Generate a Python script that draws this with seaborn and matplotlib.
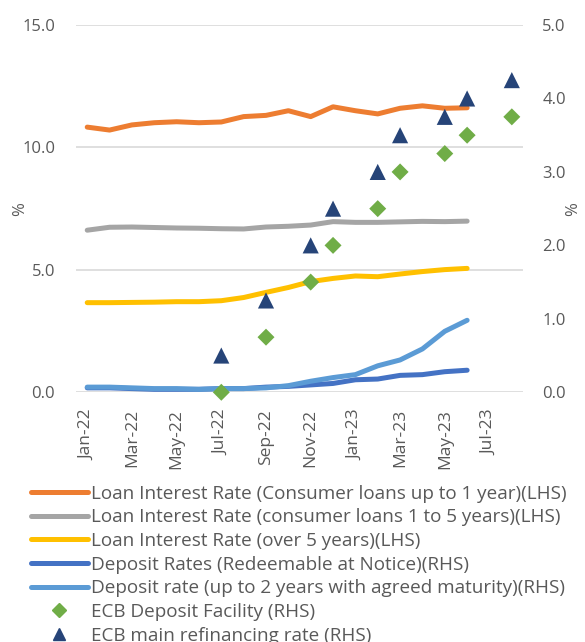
import pandas as pd
import matplotlib.pyplot as plt
import matplotlib.lines as mlines
import seaborn as sns

# Monthly data, Jan-22 .. Aug-23
months = ["Jan-22", "Feb-22", "Mar-22", "Apr-22", "May-22", "Jun-22", "Jul-22", "Aug-22",
          "Sep-22", "Oct-22", "Nov-22", "Dec-22", "Jan-23", "Feb-23", "Mar-23", "Apr-23",
          "May-23", "Jun-23", "Jul-23", "Aug-23"]
tick_labels = ["Jan-22", "Mar-22", "May-22", "Jul-22", "Sep-22", "Nov-22",
               "Jan-23", "Mar-23", "May-23", "Jul-23"]

# LHS series (Jan-22 .. Jun-23)
loan_upto1 = [10.83, 10.71, 10.92, 11.01, 11.05, 11.01, 11.04, 11.26, 11.31, 11.50,
              11.26, 11.66, 11.50, 11.37, 11.60, 11.70, 11.60, 11.62]
loan_1to5 = [6.62, 6.74, 6.75, 6.73, 6.71, 6.70, 6.68, 6.67, 6.75, 6.78,
             6.83, 6.97, 6.94, 6.94, 6.96, 6.98, 6.97, 6.99]
loan_over5 = [3.66, 3.66, 3.67, 3.68, 3.70, 3.70, 3.74, 3.87, 4.08, 4.28,
              4.52, 4.65, 4.75, 4.72, 4.83, 4.93, 5.01, 5.06]

# RHS series
dep_notice = [0.06, 0.06, 0.05, 0.04, 0.04, 0.04, 0.05, 0.05, 0.07, 0.08,
              0.10, 0.12, 0.17, 0.18, 0.23, 0.24, 0.28, 0.30]
dep_2y = [0.07, 0.07, 0.06, 0.05, 0.05, 0.04, 0.05, 0.05, 0.06, 0.09,
          0.15, 0.20, 0.24, 0.36, 0.44, 0.59, 0.83, 0.98]

# ECB rates (month, value)
dfr_months = ["Jul-22", "Sep-22", "Nov-22", "Dec-22", "Feb-23", "Mar-23", "May-23", "Jun-23", "Aug-23"]
dfr_rates = [0.0, 0.75, 1.5, 2.0, 2.5, 3.0, 3.25, 3.5, 3.75]
mro_months = ["Jul-22", "Sep-22", "Nov-22", "Dec-22", "Feb-23", "Mar-23", "May-23", "Jun-23", "Aug-23"]
mro_rates = [0.5, 1.25, 2.0, 2.5, 3.0, 3.5, 3.75, 4.0, 4.25]

labels = ["Loan Interest Rate (Consumer loans up to 1 year)(LHS)",
          "Loan Interest Rate (consumer loans 1 to 5 years)(LHS)",
          "Loan Interest Rate (over 5 years)(LHS)",
          "Deposit Rates (Redeemable at Notice)(RHS)",
          "Deposit rate (up to 2 years with agreed maturity)(RHS)",
          "ECB Deposit Facility (RHS)",
          "ECB main refinancing rate (RHS)"]
colors = ["#ED7D31", "#A5A5A5", "#FFC000", "#4472C4", "#5B9BD5", "#70AD47", "#264478"]

pos = {m: i for i, m in enumerate(months)}
x_line = list(range(len(loan_upto1)))

sns.set_style("white")
plt.rcParams['font.family'] = ['Open Sans', 'DejaVu Sans']
txt = "#595959"

fig = plt.figure(figsize=(5.85, 6.42), dpi=100)
ax = fig.add_axes([0.130, 0.389, 0.764, 0.572])
ax2 = ax.twinx()

lw = 3.6
for vals, lab, c in zip([loan_upto1, loan_1to5, loan_over5], labels[:3], colors[:3]):
    sns.lineplot(x=x_line, y=vals, ax=ax, color=c, linewidth=lw, label=lab,
                 solid_capstyle="round", legend=False)
for vals, lab, c in zip([dep_notice, dep_2y], labels[3:5], colors[3:5]):
    sns.lineplot(x=x_line, y=vals, ax=ax2, color=c, linewidth=lw, label=lab,
                 solid_capstyle="round", legend=False)

sns.scatterplot(x=[pos[m] for m in dfr_months], y=dfr_rates, ax=ax2, marker="D",
                s=75, color=colors[5], edgecolor="none", zorder=5, legend=False, clip_on=False)
sns.scatterplot(x=[pos[m] for m in mro_months], y=mro_rates, ax=ax2, marker="^",
                s=135, color=colors[6], edgecolor="none", zorder=5, legend=False, clip_on=False)

ax.set_xlim(-0.5, len(months) - 0.5)
ax.set_ylim(0, 15)
ax2.set_ylim(0, 5)
ax.set_yticks([0, 5, 10, 15])
ax.set_yticklabels(["0.0", "5.0", "10.0", "15.0"])
ax2.set_yticks([0, 1, 2, 3, 4, 5])
ax2.set_yticklabels(["0.0", "1.0", "2.0", "3.0", "4.0", "5.0"])
ax.set_xticks([pos[m] for m in tick_labels])
ax.set_xticklabels(tick_labels, rotation=90)

ax.grid(axis="y", color="#D9D9D9", linewidth=1.2)
ax.grid(axis="x", visible=False)
ax2.grid(False)
for a in (ax, ax2):
    for s in a.spines.values():
        s.set_visible(False)
    a.tick_params(length=0, labelsize=12, colors=txt)
ax.tick_params(axis="y", pad=15)
ax2.tick_params(axis="y", pad=14)
ax.tick_params(axis="x", pad=12, labelsize=12.5)

ax.set_ylabel("%", color=txt, fontsize=12)
ax2.set_ylabel("%", color=txt, fontsize=12)
ax.yaxis.set_label_coords(-0.108, 0.5)
ax2.yaxis.set_label_coords(1.094, 0.5)

handles = [mlines.Line2D([], [], color=c, linewidth=lw, solid_capstyle="round") for c in colors[:5]]
handles.append(mlines.Line2D([], [], color=colors[5], marker="D", linestyle="none", markersize=7))
handles.append(mlines.Line2D([], [], color=colors[6], marker="^", linestyle="none", markersize=9))
fig.legend(handles, labels, loc="upper left", bbox_to_anchor=(0.053, 0.245), frameon=False,
           fontsize=13.6, handlelength=3.0, handletextpad=0.2, labelspacing=0.3,
           borderaxespad=0, borderpad=0, labelcolor=txt)

fig.savefig("out.png", dpi=100)
